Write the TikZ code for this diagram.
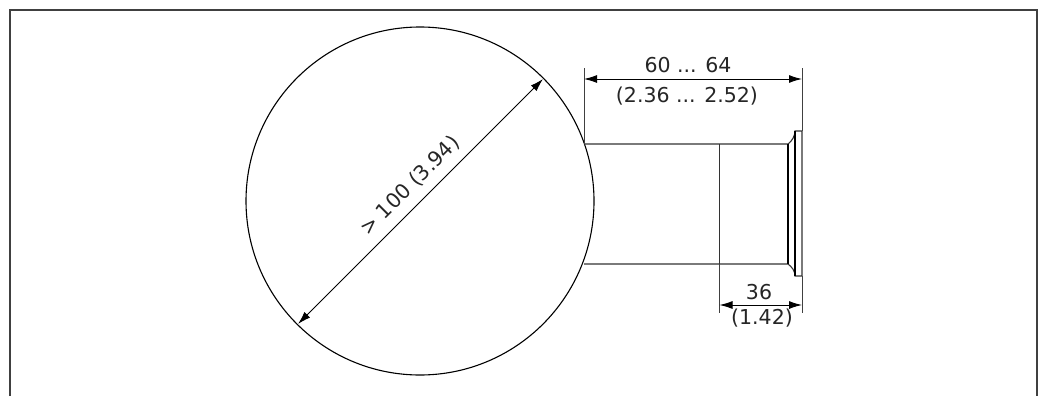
\documentclass[tikz,border=0pt]{standalone}
\usepackage{fontspec}
\setmainfont{DejaVu Sans}
\usetikzlibrary{arrows.meta}
\tikzset{
  x=1pt,y=-1pt,
  part/.style={draw=black,line width=1.1pt},
  thin part/.style={draw=black!80,line width=1.1pt},
  midline/.style={draw=black!80,line width=1pt},
  dim/.style={draw=black,line width=1pt,{Latex[length=13pt,width=8pt]}-{Latex[length=13pt,width=8pt]}},
  ext/.style={draw=black!75,line width=1pt},
  lab/.style={font=\fontsize{20.5pt}{22pt}\selectfont,text=black!85,inner sep=0pt}
}
\begin{document}
\begin{tikzpicture}
\useasboundingbox (0,0) rectangle (1038,396);
\fill[white] (0,0) rectangle (1038,396);
\draw[draw=black!75,line width=1.4pt] (10,396) -- (10,10) -- (1037,10) -- (1037,396);
\node[draw,circle,line width=1.1pt,minimum size=348pt,inner sep=0pt] (ball) at (420,201) {};
\coordinate (a) at (584,144); \coordinate (b) at (584,264);
\coordinate (c) at (788,144); \coordinate (d) at (788,264);
\coordinate (m1) at (719.5,144); \coordinate (m2) at (719.5,264);
\coordinate (f1) at (795,131); \coordinate (f2) at (802,131);
\coordinate (f3) at (802,276); \coordinate (f4) at (795,276);
\draw[thin part] (a) -- (c) .. controls (792,141) and (795,136) .. (f1) -- (f2) -- (f3) -- (f4) .. controls (795,271) and (792,267) .. (d) -- (b);
\draw[part] (c) -- (d);
\draw[part] (f1) -- (f4);
\draw[midline] (m1) -- (m2);
\coordinate (e1) at (584,68); \coordinate (e2) at (802,68);
\coordinate (e3) at (719.5,313); \coordinate (e4) at (802,313);
\draw[ext] (e1) -- (a);
\draw[ext] (e2) -- (f2);
\draw[ext] (m2) -- (e3);
\draw[ext] (f3) -- (e4);
\coordinate (p1) at (584,79); \coordinate (p2) at (802,79);
\coordinate (q1) at (719.5,305); \coordinate (q2) at (802,305);
\coordinate (r1) at (298,324); \coordinate (r2) at (543,79);
\draw[dim] (p1) -- (p2);
\draw[dim] (q1) -- (q2);
\draw[dim] (r1) -- (r2);
\node[lab] (t1) at (688,65) {60 ... 64};
\node[lab] (t2) at (687,96) {(2.36 ... 2.52)};
\node[lab] (t3) at (759,292) {36};
\node[lab] (t4) at (762,318) {(1.42)};
\node[lab,rotate=45] (t5) at (410,186) {> 100 (3.94)};
\end{tikzpicture}
\end{document}
